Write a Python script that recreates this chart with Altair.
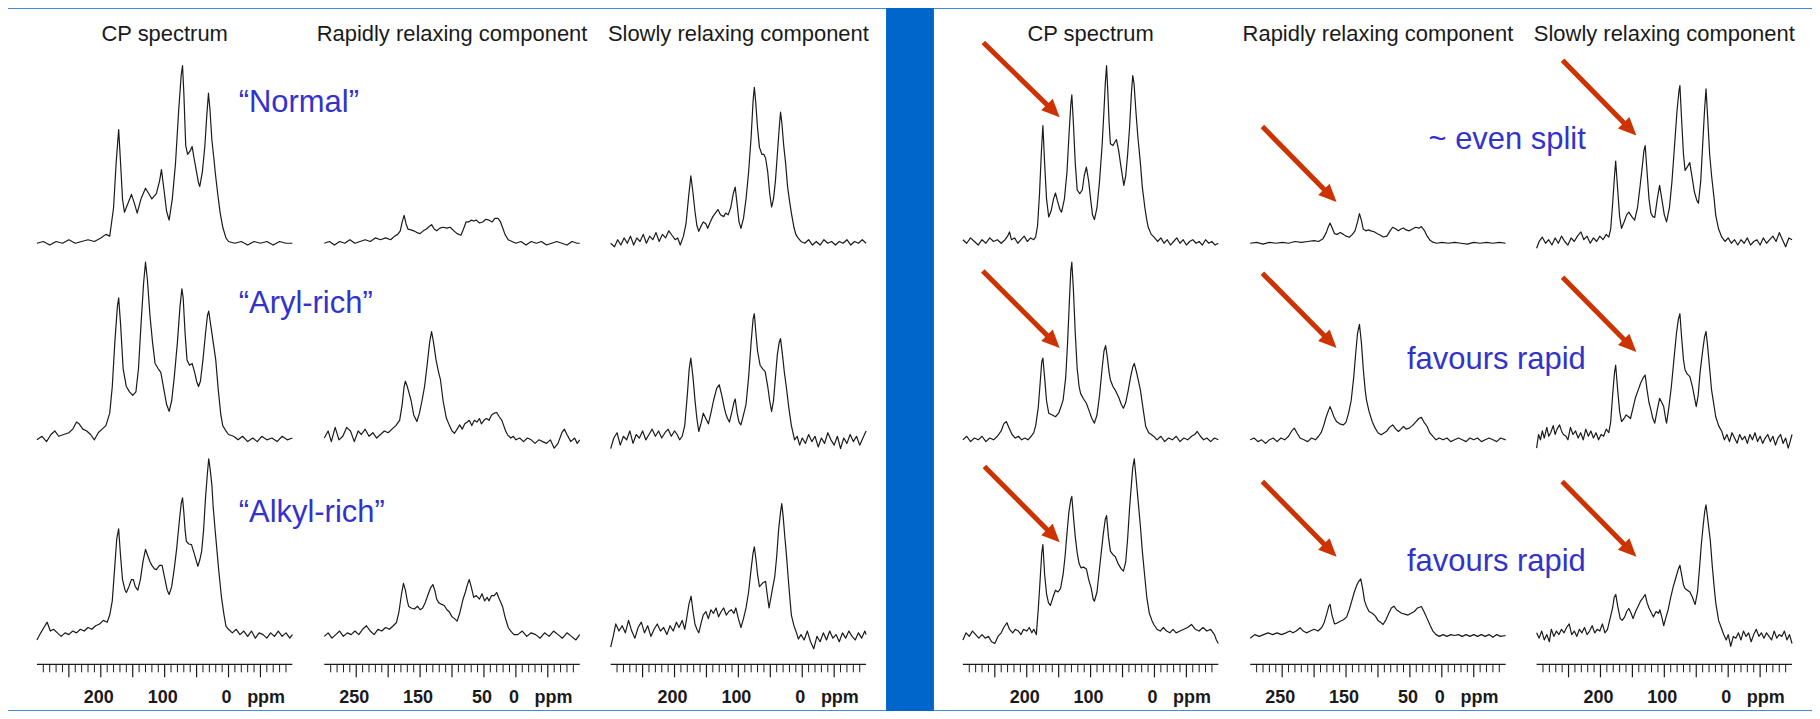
import altair as alt
import pandas as pd

# ---------------- text / axis data ----------------
HEADERS = ["CP spectrum", "Rapidly relaxing component", "Slowly relaxing component"]
TICK_LABELS = [[200, 100, 0], [250, 150, 50, 0], [200, 100, 0]]
UNIT_LABEL = "ppm"
UNIT_POS = -62
MAJOR_TICKS = [250, 200, 150, 100, 50, 0, -50]
MINOR_TICKS = [290, 280, 270, 260, 240, 230, 220, 210, 190, 180, 170, 160, 140, 130,
               120, 110, 90, 80, 70, 60, 40, 30, 20, 10, -10, -20, -30, -40, -60, -70, -80, -90]
PPM_DOMAIN = [300, -100]

LEFT_LABELS = ["\u201cNormal\u201d", "\u201cAryl-rich\u201d", "\u201cAlkyl-rich\u201d"]
LEFT_LABEL_PPM = [-16, -16, -16]
LEFT_LABEL_I = [79, 76.4, 69.7]
RIGHT_LABELS = ["~ even split", "favours rapid", "favours rapid"]
RIGHT_LABEL_PPM = [223, 223, 223]
RIGHT_LABEL_I = [57.9, 44.9, 42.1]

# arrows (right panel), per row: [CP, rapid, slow]
ARROW_TAIL_PPM = [[268, 281, 259.4], [268.8, 281, 259.4], [266.3, 281, 260]]
ARROW_TAIL_I = [[113, 65.7, 103], [95.1, 93.8, 91.6], [95.7, 87.2, 87.2]]
ARROW_TIP_PPM = [[148.4, 164.8, 143.75], [148.4, 164.8, 143.75], [148.4, 164.8, 143.75]]
ARROW_TIP_I = [[71, 23.2, 60.7], [51.7, 51.7, 49.4], [53, 44.9, 44.9]]

# ---------------- spectra: (ppm, intensity) ----------------
NORMAL_CP = [(300,0),(290,1),(280,-1),(270,1),(260,0),(250,2),(240,0),(230,1),(220,2),(210,1),(200,3),(192,5),(186,4),(180,20),(176,45),(172,64),(169,45),(166,25),(163,17.5),(158,22),(152,27.5),(147,22),(143,17),(137,25),(130,31),(125,28),(120,25),(113,28),(108,35),(105,41.5),(101,30),(97,18),(93,13),(88,25),(83,45),(78,75),(74,95),(72,100),(70,85),(67,55),(64,50),(60,52),(57,54.5),(54,48),(51,42),(47,34),(45,32),(41,40),(37,55),(34,72),(31.4,84.5),(29,75),(26,58),(23,48),(20.5,39),(17,28),(13,17),(9,9),(4,3),(0,1),(-10,0),(-20,1),(-30,-1),(-40,1),(-50,0),(-60,1),(-70,-1),(-80,1),(-90,0),(-100,0)]
NORMAL_RAPID = [(300,0),(292,1),(284,-1),(276,1),(268,0),(260,2),(252,0),(244,1),(236,2),(228,1),(220,3),(212,2),(204,3),(196,2),(190,4),(185,5),(181,7),(178,12),(175,15.7),(172,11),(169,8),(164,7.5),(160,7),(155,6),(150,5.4),(145,7),(140,8),(137,9),(132,10.5),(128,8),(124,7),(119,8.5),(114,9),(108,8.5),(103,9),(97,7),(92,5.4),(86,4.5),(82,8),(78,12),(74,12),(70,13),(66,12.5),(62,13),(57,11.4),(52,12),(47,13.5),(42,13),(37,12),(33,14),(28,14),(24,12),(21,9),(17,5),(12,2),(6,1),(0,0),(-8,1),(-16,-1),(-24,1),(-32,0),(-40,1),(-48,-1),(-56,0),(-64,1),(-72,0),(-80,-1),(-88,1),(-96,0),(-100,0)]
NORMAL_SLOW = [(300,0),(294,-2),(289,2),(284,-1),(279,3),(274,0),(269,4),(264,-1),(259,3),(254,1),(249,5),(244,0),(239,4),(234,2),(229,6),(224,1),(219,5),(214,3),(209,7),(204,4.5),(199,2),(195,3),(191,-1),(186,4),(182,11),(178,26),(174.4,38),(171,28),(168,18),(165,10),(162,6.7),(158,10),(155,12),(151,11),(148,8.4),(144,12),(140,15),(136,17),(132,19),(128,16),(123,15),(120,17),(116,16),(112,20),(108,28),(105,31.6),(102,22),(99,12),(96,8.4),(92,14),(88,25),(84,40),(80,60),(77,80),(75,87.8),(73,80),(70,65),(67,54),(63,50),(60,50),(57.4,48),(54,40),(51,28),(48,20.4),(45,25),(42,35),(39,50),(36,65),(34,73.8),(32,68),(29,55),(26,45),(23,32),(20,24),(17,17),(13,9),(10,5),(6.6,3),(2,1),(-4,0),(-10,2),(-16,-1),(-22,1),(-28,-1),(-34,2),(-40,0),(-46,1),(-52,-1),(-58,1),(-64,0),(-70,2),(-76,-1),(-82,1),(-88,0),(-94,2),(-100,0)]

ARYL_CP = [(300,0),(292,2),(285,-1),(278,3),(272,5),(266,2),(258,3),(250,4),(244,6),(238,10),(234,9),(228,6),(222,5),(216,3),(210,0),(204,4),(198,6),(192,8),(186,15),(182,30),(178,55),(174,75),(172,80),(169,65),(165,40),(160,30),(155,27),(150,25),(145,27),(141,40),(137,65),(133,88),(130,100),(127,90),(123,70),(119,55),(115,43),(110,40),(106,38),(102,30),(97,20),(93,16),(89,22),(85,35),(80,55),(76,75),(73,85),(71,80),(68,60),(65,45),(61,42),(57,43),(53,38),(50,33),(47,30),(44,33),(40,45),(36,60),(33,70),(31,72.5),(28,65),(24,55),(20,45),(16,28),(12,14),(9,8),(4,5),(0,3),(-8,2),(-15,0),(-22,2),(-30,-1),(-38,1),(-45,-1),(-52,2),(-60,0),(-68,1),(-76,-1),(-84,2),(-92,0),(-100,1)]
ARYL_RAPID = [(300,1),(294,5),(289,-1),(283,7),(277,0),(271,2),(265,7),(259,5),(253,-1),(247,5),(242,3),(236,6),(230,2),(224,4),(218,1),(212,3),(206,5),(200,4),(194,6),(188,8),(182,11),(178,20),(175,30),(173,33),(170,30),(167,26),(164,22),(160,14),(155,10.3),(151,15),(147,22),(143,30),(139,42),(135,55),(132,61),(129,55),(125,45),(121,38),(118,33.7),(114,22),(109,12.4),(104,8),(100,5),(96,3.7),(92,6),(88,8.4),(84,6),(80,9),(76,10),(73,11),(69,8),(65,11),(61,10),(57,12),(54,9),(50,11),(46,12),(42,11),(38,14),(34,15),(30,15.4),(26,13),(22,11),(20,9),(16,5),(13,2.8),(8,1),(4,2),(0,0),(-6,1),(-12,-1),(-18,1),(-24,0),(-30,-2),(-36,0),(-42,-1),(-48,-2),(-54,0),(-60,-4.7),(-66,-2),(-72,4),(-76,6),(-80,3),(-86,-1),(-92,1),(-96,-2),(-100,0)]
ARYL_SLOW = [(300,-5),(295,1),(290,4),(285,-3),(280,2),(275,0),(270,5),(265,-2),(260,3),(255,1),(250,5),(245,0),(240,3),(235,6),(230,2),(225,5),(220,1),(215,4),(210,6),(205,2),(200,5),(196,3),(192,0),(188,2),(184,8),(180,25),(177,40),(174.5,46),(171,35),(168,22.5),(165,12),(162,4.7),(158,10),(155,15),(151,12),(147,9),(143,15),(139,22),(134,29),(130,31),(126,25),(122,18),(120,15),(117,12),(114,10),(110,16),(107,21),(105,23),(102,15),(99,10),(96,8.4),(92,14),(88,20),(84,35),(80,55),(77,68),(75,71),(73,62),(70,50),(66,42),(62,40),(58,38.4),(54,30),(51,22),(48,16),(45,22),(42,35),(39,48),(36,55),(34,57),(31,48),(28,38),(25,30),(21,18),(17,8),(12,0),(8,2),(4,-3),(0,1),(-5,-2),(-10,3),(-15,-1),(-20,2),(-25,-4),(-30,1),(-35,-2),(-40,4),(-45,0),(-50,-3),(-55,2),(-60,-5),(-65,1),(-70,-2),(-75,3),(-80,-1),(-85,2),(-90,-3),(-95,1),(-100,5)]

ALKYL_CP = [(300,-2),(294,2),(289,5),(284,8),(279,3),(274,4),(268,2),(262,0),(256,2),(250,1),(244,3),(238,2),(232,4),(226,3),(220,5),(214,4),(208,6),(202,7),(196,9),(190,8),(186,12),(182,20),(178,40),(175,55),(172,60.5),(169,45),(166,32),(162,26),(160,24.7),(156,28),(152,32),(149,32),(146,28),(142,26),(138,32),(134,42),(130,49),(127,46),(123,42),(120,40),(116,38),(113,37.6),(108,40),(104,40),(100,33),(96,26),(93,23.6),(89,28),(85,38),(81,50),(77,65),(74,75),(72,78),(70,70),(68,60),(66,53.5),(62,52),(58,51.7),(54,47),(50,42),(48,39.5),(45,43),(42,48),(39,60),(36,78),(33,92),(31,100),(29,95),(26,85),(24,73),(21,60),(18,48),(15,36),(11,22),(7,12),(4,5.8),(0,4),(-6,2),(-12,4),(-18,1),(-24,3),(-30,0),(-36,3),(-42,-1),(-48,2),(-54,1),(-60,-1),(-66,2),(-72,0),(-78,3),(-84,0),(-90,2),(-96,-1),(-100,1)]
ALKYL_RAPID = [(300,0),(294,2),(288,-1),(282,1),(276,3),(270,0),(264,2),(258,1),(252,3),(246,1),(240,4),(234,6),(228,3),(222,1),(216,4),(210,3),(204,5),(198,4),(192,6),(187,7.8),(183,14),(179,24),(176,29.8),(173,26),(170,20),(168,17),(164,16),(159,15.4),(154,17),(150,15),(146,16),(142,19),(138,23),(134,27),(130,29.2),(127,26),(124,21),(121,19),(116,18),(112,17.4),(108,15),(104,13.7),(100,11),(96,10),(92,8.6),(88,13),(83,20.6),(79,25),(76,29),(73,32),(70,28),(66,22),(62,23),(57,21),(53,24),(49,20),(45,22),(42,20),(38,23),(34,23),(30,24.7),(26,21),(21,17),(17,11),(12,5),(8,3),(3,1),(-3,1),(-10,3),(-17,0),(-24,2),(-31,1),(-38,-1),(-45,2),(-52,0),(-59,3),(-66,1),(-73,-1),(-80,2),(-87,0),(-94,-2),(-100,1)]
ALKYL_SLOW = [(300,-6),(296,0),(292,7),(287,3),(282,6),(277,2),(272,9),(267,3),(262,-1),(257,5),(252,8),(247,2),(242,6),(237,0),(232,4),(227,7),(222,3),(217,5),(212,1),(207,6),(202,3),(197,8),(193,5),(188,9),(184,4),(181,10),(177.5,18),(174,22.6),(171,14),(168,7),(165,4),(162,2),(158,8),(155,12),(151,14),(147,10),(143,15),(139,13),(135,16),(131,11),(127,14),(123,16),(119,12),(115,14),(111,15),(107,13),(104,16),(100,10),(96,5),(92,10),(88,16),(84,25),(80,38),(77,47),(75,50.4),(72,42),(70,35),(67,28),(62,30),(57.4,31),(55,24),(52,16),(49,22),(46,28),(43,33.7),(40,45),(37,60),(34,70),(32,74.7),(30,68),(27,55),(25,47),(22,33),(19,20),(17,12),(13,6),(9,2),(6,-1.5),(2,1),(-3,-2),(-8,3),(-13,-3),(-18,-7),(-23,0),(-28,-3),(-33,2),(-38,-2),(-43,3),(-48,-1),(-53,1),(-58,-3),(-63,2),(-68,-1),(-73,3),(-78,0),(-83,-2),(-88,2),(-93,-1),(-98,3),(-100,1)]

R1_CP = [(300,2),(294,0),(288,3),(282,1),(276,-1),(270,2),(264,0),(258,3),(252,1),(246,2),(240,0),(234,2),(230,4),(227,6.4),(224,2),(219,3),(214,0),(209,2),(204,4),(199,1),(194,3),(189,2),(186,3.6),(183,10),(180,28),(177,52),(174.7,66.3),(172,45),(169,25),(165.6,14.8),(162,18),(158,25),(155,28.3),(152,24),(148,19),(145.5,17.5),(141,25),(137,40),(134,60),(131,78),(129.4,83.5),(127,68),(124,45),(121,30),(117,28),(113,30),(110,38),(106.6,42.9),(103,35),(100,25),(97,16),(94,13.3),(90,20),(86,35),(82,55),(79,75),(77,90),(75,100),(73,85),(71,68),(69,56),(65,55),(62,57),(59.5,58.4),(56,52),(52,42),(48,32.6),(45,38),(42,50),(39,65),(36,85),(34,94.4),(32,90),(29,74),(26,60),(22,45),(19,31.6),(15,20),(12,13),(9.7,9),(5,5),(1,3.6),(-5,1),(-10,3),(-15,0),(-20,2),(-25,-1),(-30,1),(-35,3),(-40,0),(-45,2),(-50,-1),(-55,1),(-60,2),(-65,0),(-70,1),(-75,-1),(-80,2),(-85,0),(-90,1),(-95,-1),(-100,0)]
R1_RAPID = [(300,0),(290,0.5),(280,-0.5),(270,0.5),(260,0),(250,0.5),(240,0),(230,1),(220,0.5),(210,1),(200,1.5),(193,1),(186,2.6),(181,6),(178,9),(175,11.4),(171,8),(168,5.4),(164,5),(159,6),(154,5),(150,4),(145,3.4),(140,5),(136,7),(132,12),(129,16.7),(126,13),(123,8),(119,7),(115,7.5),(111,7),(106,6.5),(101,5.4),(96,4.5),(91.6,3.5),(86,4),(81,7),(77,9),(72,8),(68,7),(64,8),(60,8.6),(56,7.5),(51,7),(46,8),(41,9),(36,8.5),(32,9.4),(27,7),(23,4),(18,1.5),(14,0.6),(8,0),(0,0.5),(-10,0),(-20,0.5),(-30,0),(-40,-0.5),(-50,0.5),(-60,0),(-70,0.5),(-80,0),(-90,0.5),(-100,0)]
R1_SLOW = [(300,-2.8),(296,1),(291,3.4),(286,0),(281,2),(276,-1),(271,3),(266,0),(261,4),(256,1),(251,-1),(246,3),(241,1),(236,4),(230.6,6.4),(226,2),(221,4),(216,0),(211,3),(206,1),(201,4),(196,2),(191,5),(187,3.5),(184,8),(181,22),(178,38),(176.2,46.3),(173,30),(170,15),(167,8.4),(163,12),(159,16),(155.6,17.5),(151,15),(146.5,13),(142,20),(138,32),(134,45),(132,52),(130,55),(127,40),(124,25),(121,17),(118,15),(115,14.6),(111,25),(107.4,32.6),(104,25),(100,16),(96.5,12),(92,20),(88,35),(84,55),(80,75),(77,86),(75.6,88.8),(73,70),(70,50),(67.5,41),(64,43),(60.2,45.4),(56,36),(53,29),(49,24),(46.6,22.5),(43,35),(40,55),(37,75),(34.7,87),(32,70),(29,50),(26,38),(22,25),(19.5,15.7),(15,8),(10,3.4),(5,1),(0,3),(-5,0),(-10,2),(-15,-1),(-20,2),(-25,0),(-30,3),(-35,-1),(-40,1),(-45,2),(-50,-1),(-55,3),(-60,0),(-65,2),(-70,4),(-75,1),(-80,6),(-85,2),(-90,-2),(-95,3),(-100,2)]

R2_CP = [(300,0),(294,2),(288,-1),(282,1),(276,0),(270,2),(264,-1),(258,1),(252,0),(246,2),(240,5),(236,9),(232,10.3),(228,7),(223,3),(218,1),(213,2),(208,0),(203,1),(198,0),(193,2),(189,4),(186,8),(182,18),(179,32),(176.5,44),(174.7,46),(172,35),(169,22),(165.6,15),(160,14),(155,13),(150,15),(146,19),(143,22.5),(139,35),(136,55),(133,80),(131,95),(129.4,100),(127,85),(124,60),(121,40),(118,30),(115.6,26),(111,23),(106.6,20.6),(102,16),(98,12),(94,9.4),(90,14),(86,25),(82,40),(79,50),(76.5,53),(74,47),(71,38),(69,33.7),(65,30),(61.5,28),(56,24),(52,20),(48.6,17.8),(45,21),(41,28),(37,36),(34,41),(31.6,43),(28,38),(25,33),(22,28),(18,18),(13.7,7.5),(9,4),(5,3),(1,1.9),(-4,0),(-10,2),(-16,-1),(-22,1),(-28,0),(-34,2),(-40,-1),(-46,1),(-52,0),(-58,2),(-63,3),(-67,4.7),(-72,2),(-77,0),(-82,1),(-88,-1),(-94,1),(-100,0)]
R2_RAPID = [(300,0),(294,1),(288,-1),(282,0),(276,-2),(270,0),(264,1),(258,-1),(252,1),(246,0),(240,2),(235,5),(231,6.6),(227,4),(222,1),(216,0),(210,-1),(204,1),(198,0),(193,2),(189,4),(185,8),(181,13),(177,17),(175,18.7),(172,16),(169,13),(165,10.3),(160,9),(154,8.4),(150,10),(146,15),(142,22),(138,35),(135,48),(132,60),(129,65),(126,55),(123,40),(120,28),(118,22.5),(114,16),(109,10.3),(105,7),(100,4),(95,2.8),(90,4),(86,5),(82,7),(77,8.4),(72,6),(68,4.7),(64,6),(60,7.5),(56,6),(51,6.6),(46,8),(41,10),(36,12),(32,12.7),(28,10),(23,7.5),(19,4),(14,1.9),(9,0),(4,1),(-2,0),(-8,1),(-14,-1),(-20,0),(-26,1),(-32,0),(-38,-1),(-44,1),(-50,0),(-56,1),(-62,-1),(-68,0),(-74,1),(-80,0),(-86,-1),(-92,1),(-100,0)]
R2_SLOW = [(300,-4.7),(297,3),(294,0),(291,5),(288,1),(284,7),(281,2),(278,4),(274,8),(271,3),(268,6),(264,8.4),(261,5),(258,3),(254,2),(251,0),(247,7),(243,3),(239,5),(235,1),(231,4),(227,0),(223,6),(219,2),(215,5),(211,1),(207,4),(203,0),(199,3),(195,2),(191,6),(187,4),(184,10),(181,25),(178,38),(176.2,42),(173,28),(170,16),(167,10.3),(163,12),(160,14),(156,13),(153,12),(149,18),(145,24),(141,28),(137,32),(133,35),(130,36.5),(127,28),(124,21),(121,16.9),(118,12),(115,9.4),(111,17),(107.4,23.4),(104,21),(101,18.7),(98,12),(96.5,9.4),(93,18),(89,30),(85,45),(81,60),(78,68),(75.6,71),(73,58),(70,45),(67.5,39.3),(64,37),(60,35.6),(56,30),(53,24.3),(50,18.7),(47,25),(44,38),(40,50),(37,58),(34.7,61),(32,52),(29,40),(26,28),(22.5,20),(19.5,13),(15,8),(10,4.7),(6,0),(2,3),(-2,-1),(-6,4),(-10,1),(-14,-1.9),(-18,3),(-22,0),(-26,2),(-30,-2),(-34,3),(-38,0),(-42,4),(-46,-1),(-50,2),(-54,-2),(-58,1),(-62,3),(-66,-1),(-70,2),(-74,-3),(-78,1),(-82,3),(-86,-2),(-90,1),(-94,-4.7),(-97,-1),(-100,3)]

R3_CP = [(300,-2),(295,2),(290,0),(285,3),(280,1),(275,-1),(270,1),(265,-1),(260,0),(255,-3),(250,-4),(245,0),(240,2),(236,5),(231,7.7),(227,4),(222,2),(218,4),(213,3),(209,1),(205,4),(200,3),(196,5),(192,2),(189,4),(185,1),(182,15),(179,32),(176.5,47),(174.7,51.7),(172,35),(169,24),(166,19),(163,17.4),(159,22),(155,26),(151,25),(147,27),(143,35),(140,45),(137,58),(134,70),(131,77),(129.4,78.8),(127,68),(124,56),(121,47),(118,41),(115,38.6),(111,39),(106.6,38),(103,32),(99,27),(96,21),(94,19.8),(90,25),(87,35),(84,45),(80,58),(77,66),(75,68),(72,56),(69,48),(65,46),(61.5,45),(57,41),(52,38),(48.6,36.7),(45,42),(42,55),(39,72),(36,86),(34,95),(31.6,100),(29,90),(26,78),(22,62),(19,48),(15,33),(12,22),(8,13),(4,9),(1,6.7),(-4,4),(-9,3),(-14,5),(-19,3),(-24,2),(-29,4),(-34,2),(-40,3),(-46,4),(-52,5),(-58,6.7),(-64,4),(-70,3),(-76,5),(-82,3),(-88,4),(-94,1),(-97,-2),(-100,-4)]
R3_RAPID = [(300,-1),(293,1),(286,0),(279,1),(272,2),(265,1),(258,2),(251,1),(244,2),(238,3),(233,2),(228,3),(222,4.9),(217,3),(212,2),(206,3),(200,4),(194,3),(188,5),(184,8),(180,13),(177,17),(175,18),(172,12),(168,7),(164,7.5),(159,8.5),(154,9.4),(149,11),(145,15),(141,20),(137,25),(133,29),(130,31),(127,32.4),(124,27),(121,20),(118,17),(114,14),(109,13),(104,11.4),(100,9),(96,8),(92,6.7),(88,9),(83,13),(79,16),(75,17),(71,15),(67,14),(63,13),(58,12.5),(53,12),(48,13),(43,14),(38,16),(32,16.8),(28,14),(23,10),(18,6),(14,3),(9,1),(4,0),(-2,1),(-8,0),(-14,1),(-20,0.5),(-26,1),(-32,0),(-38,1),(-44,0),(-50,1),(-56,0),(-62,1),(-68,0),(-74,1),(-80,-0.5),(-86,1),(-92,0),(-100,0.5)]
R3_SLOW = [(300,2),(296,-1),(292,3),(288,-2),(284,1),(280,-3),(277,4),(273,0),(269,3),(265,1),(261,4),(257,2),(253,5),(249,7),(245,1),(241,3),(237,0),(233,4),(229,2),(225,5),(221,1),(217,3),(213,6),(209,2),(205,4),(201,3),(197,7),(193,2),(189,4),(185,10),(181,16),(178.5,22),(176,23.6),(173,17),(169,10),(166,9),(162,11),(159,14),(155.6,15.7),(152,13),(149,10),(145,14),(141,17),(137,20),(133,22),(130,23.6),(127,19),(124,16),(120,13),(117,11),(113,14),(109,13),(107,15),(104,11),(101,6),(98,10),(94,15),(90,22),(86,28),(82,33),(78,38),(75.6,40),(72,33),(70,29),(67.5,27),(64,26),(60,25),(56,22),(53,19),(51.7,18),(48,25),(45,38),(42,52),(39,63),(36.5,71),(34.7,74),(32,66),(30,60),(28,54),(25,40),(22,28),(19.5,19),(15,9),(10,4),(7,1),(3,-2),(0,1),(-4,-5.6),(-8,0),(-12,-1),(-16,2),(-20,-2),(-24,3),(-28,0),(-32,2),(-36,-3),(-40,1),(-44,4),(-48,0),(-52,2),(-56,-1),(-60,2),(-64,0),(-68,-2),(-72,3),(-76,-1),(-80,1),(-84,0),(-88,3),(-92,-2),(-96,1),(-100,-4)]

LEFT_SPECTRA = [[NORMAL_CP, NORMAL_RAPID, NORMAL_SLOW],
                [ARYL_CP, ARYL_RAPID, ARYL_SLOW],
                [ALKYL_CP, ALKYL_RAPID, ALKYL_SLOW]]
RIGHT_SPECTRA = [[R1_CP, R1_RAPID, R1_SLOW],
                 [R2_CP, R2_RAPID, R2_SLOW],
                 [R3_CP, R3_RAPID, R3_SLOW]]

# ---------------- layout / style ----------------
FONT = "Liberation Sans"
BG_BLUE = "#0066CC"
LABEL_BLUE = "#3333CC"
ARROW_RED = "#CC3300"
INK = "#1a1a1a"
PANEL_W, PANEL_H, PANEL_GAP = 880, 703, 48
COL_RANGES = [[29, 285], [317, 573], [604, 860]]
BASELINES = [235, 432, 629]
PEAK_PX = 178
HEADER_Y = 25
AXIS_Y = 657
MAJOR_LEN, MINOR_LEN = 13, 8
TICK_LABEL_Y = 691
ARROW_HEAD = "M0,0L-2,-0.9L-2,0.9Z"


def xs(c):
    return alt.Scale(domain=PPM_DOMAIN, range=COL_RANGES[c], nice=False, zero=False)


def ys(r):
    b = BASELINES[r]
    return alt.Scale(domain=[0, 100], range=[b, b - PEAK_PX], nice=False, zero=False)


def column_layers(c, spectra):
    layers = []
    hdr = pd.DataFrame({"p": [100.0], "t": [HEADERS[c]]})
    layers.append(alt.Chart(hdr).mark_text(font=FONT, fontSize=22, color=INK, align="center",
                                           baseline="middle").encode(
        x=alt.X("p:Q", scale=xs(c), axis=None), y=alt.value(HEADER_Y), text="t:N"))
    for r in range(3):
        df = pd.DataFrame(spectra[r][c], columns=["p", "i"])
        layers.append(alt.Chart(df).mark_line(color=INK, strokeWidth=1.2, strokeJoin="round").encode(
            x=alt.X("p:Q", scale=xs(c), axis=None),
            y=alt.Y("i:Q", scale=ys(r), axis=None)))
    # axis line
    ax = pd.DataFrame({"a": [PPM_DOMAIN[0]], "b": [PPM_DOMAIN[1]]})
    layers.append(alt.Chart(ax).mark_rule(color=INK, strokeWidth=1.3).encode(
        x=alt.X("a:Q", scale=xs(c), axis=None), x2="b:Q", y=alt.value(AXIS_Y)))
    layers.append(alt.Chart(pd.DataFrame({"v": MAJOR_TICKS})).mark_rule(color=INK, strokeWidth=1.2).encode(
        x=alt.X("v:Q", scale=xs(c), axis=None), y=alt.value(AXIS_Y), y2=alt.value(AXIS_Y + MAJOR_LEN)))
    layers.append(alt.Chart(pd.DataFrame({"v": MINOR_TICKS})).mark_rule(color=INK, strokeWidth=1.0).encode(
        x=alt.X("v:Q", scale=xs(c), axis=None), y=alt.value(AXIS_Y), y2=alt.value(AXIS_Y + MINOR_LEN)))
    lab = pd.DataFrame({"v": TICK_LABELS[c] + [UNIT_POS],
                        "t": [str(v) for v in TICK_LABELS[c]] + [UNIT_LABEL]})
    layers.append(alt.Chart(lab).mark_text(font=FONT, fontSize=18, fontWeight="bold", color=INK,
                                           align="center", baseline="middle", dx=-2).encode(
        x=alt.X("v:Q", scale=xs(c), axis=None), y=alt.value(TICK_LABEL_Y), text="t:N"))
    return layers


def label_layers(texts, ppms, ints, c, align):
    layers = []
    for r in range(3):
        df = pd.DataFrame({"p": [ppms[r]], "i": [ints[r]], "t": [texts[r]]})
        layers.append(alt.Chart(df).mark_text(font=FONT, fontSize=31, color=LABEL_BLUE, align=align,
                                              baseline="middle").encode(
            x=alt.X("p:Q", scale=xs(c), axis=None),
            y=alt.Y("i:Q", scale=ys(r), axis=None), text="t:N"))
    return layers


def arrow_layers():
    layers = []
    for r in range(3):
        for c in range(3):
            df = pd.DataFrame({"p0": [ARROW_TAIL_PPM[r][c]], "i0": [ARROW_TAIL_I[r][c]],
                               "p1": [ARROW_TIP_PPM[r][c]], "i1": [ARROW_TIP_I[r][c]]})
            layers.append(alt.Chart(df).mark_rule(color=ARROW_RED, strokeWidth=5,
                                                  x2Offset=-6, y2Offset=-6).encode(
                x=alt.X("p0:Q", scale=xs(c), axis=None), x2="p1:Q",
                y=alt.Y("i0:Q", scale=ys(r), axis=None), y2="i1:Q"))
            layers.append(alt.Chart(df).mark_point(shape=ARROW_HEAD, filled=True, size=324, angle=45,
                                                   color=ARROW_RED, opacity=1, strokeWidth=0).encode(
                x=alt.X("p1:Q", scale=xs(c), axis=None),
                y=alt.Y("i1:Q", scale=ys(r), axis=None)))
    return layers


def panel(spectra, extra):
    layers = []
    for c in range(3):
        layers += column_layers(c, spectra)
    layers += extra
    return alt.layer(*layers).resolve_scale(x="independent", y="independent").properties(
        width=PANEL_W, height=PANEL_H)


left = panel(LEFT_SPECTRA, label_layers(LEFT_LABELS, LEFT_LABEL_PPM, LEFT_LABEL_I, 0, "left"))
right = panel(RIGHT_SPECTRA, arrow_layers() +
              label_layers(RIGHT_LABELS, RIGHT_LABEL_PPM, RIGHT_LABEL_I, 2, "right"))

chart = alt.hconcat(left, right, spacing=PANEL_GAP).properties(
    background=BG_BLUE, padding=0
).configure_view(fill="white", strokeWidth=0)

chart.save("out.html", embed_options={"renderer": "svg", "actions": False})
